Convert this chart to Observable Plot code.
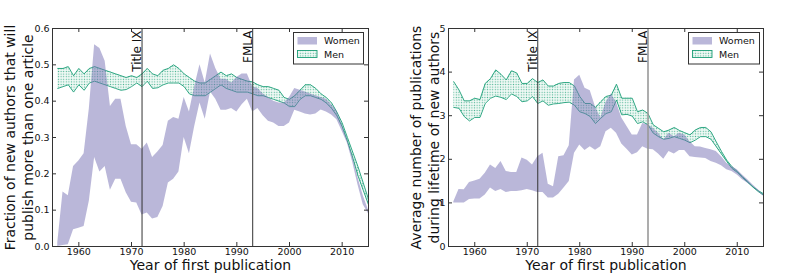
<!DOCTYPE html>
<html><head><meta charset="utf-8">
<script src="https://cdn.jsdelivr.net/npm/d3@7"></script>
<script src="https://cdn.jsdelivr.net/npm/@observablehq/plot@0.6"></script>
<style>
body{margin:0;background:#fff;}
#wrap{display:flex;width:806px;height:275px;overflow:hidden;}
#wrap svg{display:block;}
</style></head><body><div id="wrap"></div>
<script>
// ---- data ----
const years = [1956,1957,1958,1959,1960,1961,1962,1963,1964,1965,1966,1967,1968,1969,1970,1971,1972,1973,1974,1975,1976,1977,1978,1979,1980,1981,1982,1983,1984,1985,1986,1987,1988,1989,1990,1991,1992,1993,1994,1995,1996,1997,1998,1999,2000,2001,2002,2003,2004,2005,2006,2007,2008,2009,2010,2011,2012,2013,2014,2015];

// Left: fraction of new authors publishing more than one article
const womenFracLo = [0.0,0.003,0.005,0.046,0.05,0.055,0.125,0.245,0.205,0.22,0.155,0.185,0.185,0.148,0.122,0.12,0.087,0.092,0.076,0.08,0.11,0.175,0.185,0.205,0.30,0.255,0.33,0.395,0.35,0.425,0.405,0.375,0.375,0.38,0.37,0.39,0.405,0.37,0.38,0.36,0.345,0.34,0.33,0.33,0.34,0.375,0.37,0.365,0.362,0.365,0.376,0.37,0.362,0.349,0.317,0.284,0.232,0.17,0.115,0.09];
const womenFracHi = [0.01,0.15,0.14,0.22,0.235,0.255,0.38,0.555,0.545,0.51,0.385,0.405,0.405,0.33,0.28,0.28,0.268,0.285,0.245,0.26,0.278,0.345,0.355,0.35,0.41,0.37,0.44,0.50,0.45,0.53,0.49,0.46,0.46,0.45,0.465,0.475,0.475,0.44,0.435,0.42,0.41,0.40,0.395,0.395,0.41,0.435,0.43,0.425,0.42,0.415,0.41,0.405,0.39,0.372,0.335,0.294,0.248,0.19,0.14,0.10];
const menFracLo = [0.435,0.44,0.445,0.425,0.445,0.43,0.45,0.455,0.45,0.445,0.44,0.435,0.43,0.432,0.44,0.45,0.44,0.455,0.435,0.437,0.445,0.45,0.45,0.45,0.44,0.42,0.415,0.415,0.415,0.425,0.435,0.445,0.435,0.43,0.425,0.425,0.425,0.42,0.415,0.415,0.41,0.405,0.40,0.395,0.385,0.385,0.405,0.415,0.415,0.41,0.405,0.395,0.38,0.36,0.33,0.29,0.245,0.195,0.155,0.115];
const menFracHi = [0.49,0.49,0.495,0.47,0.49,0.475,0.49,0.495,0.49,0.485,0.48,0.475,0.47,0.465,0.47,0.465,0.475,0.49,0.475,0.47,0.485,0.49,0.50,0.49,0.475,0.465,0.455,0.45,0.45,0.46,0.47,0.48,0.47,0.475,0.465,0.46,0.455,0.453,0.445,0.44,0.44,0.435,0.43,0.41,0.405,0.415,0.43,0.445,0.445,0.435,0.42,0.41,0.395,0.37,0.34,0.30,0.26,0.22,0.175,0.13];

// Right: average number of publications during lifetime
const womenPubLo = [1.0,1.0,1.0,1.08,1.09,1.09,1.18,1.34,1.26,1.31,1.24,1.26,1.26,1.28,1.31,1.28,1.24,1.24,1.11,1.11,1.2,1.34,1.49,2.14,2.33,2.2,2.29,2.21,2.29,2.63,2.71,2.6,2.35,2.23,2.1,2.15,2.29,2.23,2.22,2.12,2.0,2.18,2.12,2.2,2.2,2.06,2.04,2.03,2.02,1.95,1.91,1.85,1.76,1.72,1.64,1.53,1.45,1.37,1.26,1.15];
const womenPubHi = [1.02,1.31,1.30,1.47,1.50,1.54,1.68,1.87,1.79,1.95,1.72,1.70,1.70,2.03,1.98,1.87,2.06,2.14,1.43,1.37,2.06,2.08,2.31,3.82,3.93,3.63,3.57,3.2,2.95,3.3,3.5,3.3,2.95,2.75,2.56,2.56,2.82,2.79,2.71,2.6,2.44,2.6,2.52,2.6,2.56,2.4,2.29,2.28,2.25,2.22,2.18,2.06,1.91,1.83,1.76,1.64,1.53,1.41,1.3,1.18];
const menPubLo = [3.19,3.17,2.98,2.88,2.96,2.96,3.28,3.4,3.45,3.42,3.37,3.5,3.44,3.32,3.34,3.44,3.28,3.34,3.24,3.27,3.28,3.3,3.31,3.24,3.09,3.05,2.98,2.82,2.94,3.05,3.09,3.36,3.02,3.03,2.99,2.82,2.86,2.79,2.6,2.52,2.46,2.48,2.52,2.48,2.44,2.38,2.44,2.52,2.52,2.46,2.29,2.12,1.95,1.79,1.7,1.58,1.47,1.36,1.26,1.18];
const menPubHi = [3.78,3.59,3.34,3.34,3.4,3.37,3.74,3.85,4.05,3.95,3.82,4.03,3.98,3.74,3.74,3.85,3.76,3.82,3.68,3.68,3.74,3.76,3.76,3.68,3.44,3.28,3.28,3.19,3.32,3.44,3.47,3.72,3.4,3.4,3.4,3.09,3.13,3.05,2.79,2.71,2.63,2.67,2.73,2.66,2.61,2.56,2.67,2.73,2.73,2.63,2.4,2.18,1.98,1.83,1.72,1.6,1.49,1.37,1.28,1.21];

const eventYears = [1972, 1993];
const eventNames = ["Title IX", "FMLA"];
const xTicks = [1960, 1970, 1980, 1990, 2000, 2010];
const yTicksFrac = [0.0, 0.1, 0.2, 0.3, 0.4, 0.5, 0.6];
const yTicksPub = [0, 1, 2, 3, 4, 5];
const seriesNames = ["Women", "Men"];
const xLabel = "Year of first publication";
const yLabelFrac = "Fraction of new authors that will\npublish more than one article";
const yLabelPub = "Average number of publications\nduring lifetime of new authors";

// ---- styles ----
const GREEN = "#1b9e77";
const PURPLE = "#7570b3";
const FONT = "DejaVu Sans, Bitstream Vera Sans, sans-serif";

function rows(lo, hi) { return years.map((y, i) => ({year: y, lo: lo[i], hi: hi[i]})); }
const events = eventYears.map((y, i) => ({year: y, name: eventNames[i]}));

function panel(o) {
  const H = 275, mT = 28, mB = 29;
  const frameW = o.width - o.marginLeft - o.marginRight;
  const frameH = H - mT - mB;
  const men = rows(o.menLo, o.menHi);
  const women = rows(o.womenLo, o.womenHi);
  const pid = "hatch" + o.id;
  const svg = Plot.plot({
    width: o.width, height: H,
    marginLeft: o.marginLeft, marginRight: o.marginRight, marginTop: mT, marginBottom: mB,
    x: {domain: [1955, 2015]},
    y: {domain: o.yDomain},
    style: {fontFamily: FONT, fontSize: "9.5px", color: "#111", background: "white", overflow: "visible"},
    marks: [
      Plot.areaY(men, {x: "year", y1: "lo", y2: "hi", fill: `url(#${pid})`}),
      Plot.line(men, {x: "year", y: "hi", stroke: GREEN, strokeWidth: 0.9}),
      Plot.line(men, {x: "year", y: "lo", stroke: GREEN, strokeWidth: 0.9}),
      Plot.areaY(women, {x: "year", y1: "lo", y2: "hi", fill: PURPLE, fillOpacity: 0.5}),
      Plot.ruleX(events.slice(0,1), {x: "year", stroke: "#333", strokeWidth: 1}),
      Plot.ruleX(events.slice(1), {x: "year", stroke: o.fmlaStroke, strokeWidth: o.fmlaWidth}),
      Plot.text(events, {x: "year", text: "name", frameAnchor: "top", rotate: -90, textAnchor: "end", lineAnchor: "bottom", dy: 2, dx: -1, fontSize: 12, fill: "#111"}),
      Plot.ruleX(xTicks, {x: d => d, insetTop: frameH - 4, stroke: "#333"}),
      Plot.ruleX(xTicks, {x: d => d, insetBottom: frameH - 4, stroke: "#333"}),
      Plot.ruleY(o.yTicks, {y: d => d, insetRight: frameW - 4, stroke: "#333"}),
      Plot.ruleY(o.yTicks, {y: d => d, insetLeft: frameW - 4, stroke: "#333"}),
      Plot.frame({stroke: "#333", strokeWidth: 1}),
      Plot.axisX(xTicks, {tickSize: 0, tickPadding: 2, label: null, tickFormat: d => String(d)}),
      Plot.axisY(o.yTicks, {tickSize: 0, tickPadding: 3, label: null, tickFormat: o.yFormat}),
      Plot.text([o.yLabel], {text: d => d, frameAnchor: "left", textAnchor: "middle", lineAnchor: "middle", rotate: -90, dx: o.yLabelDx, fontSize: 14, lineHeight: 1.27, fill: "#111"}),
      Plot.text([xLabel], {text: d => d, frameAnchor: "bottom", textAnchor: "middle", lineAnchor: "middle", dy: 19, fontSize: 14, fill: "#111"})
    ]
  });
  const s = d3.select(svg);
  s.insert("defs", ":first-child").html(
    `<pattern id="${pid}" patternUnits="userSpaceOnUse" width="2.6" height="2.6">` +
    `<rect width="2.6" height="2.6" fill="#f0f9f5"/>` +
    `<circle cx="1.3" cy="1.3" r="0.65" fill="${GREEN}" fill-opacity="0.75"/></pattern>`);
  // legend
  const L = o.legend;
  const g = s.append("g").attr("font-family", FONT).attr("font-size", 9.5).attr("text-anchor", "start");
  g.append("rect").attr("x", L.x).attr("y", 32.5).attr("width", L.w).attr("height", 31.5)
    .attr("fill", "white").attr("stroke", "#333").attr("stroke-width", 1);
  g.append("rect").attr("x", L.x + 4).attr("y", 37).attr("width", 19.5).attr("height", 7.5)
    .attr("fill", PURPLE).attr("fill-opacity", 0.5);
  g.append("rect").attr("x", L.x + 4).attr("y", 50.5).attr("width", 19.5).attr("height", 7)
    .attr("fill", `url(#${pid})`).attr("stroke", GREEN).attr("stroke-width", 0.9);
  g.append("text").attr("x", L.x + 30.5).attr("y", 41).attr("dy", "0.35em").attr("fill", "#111").text(seriesNames[0]);
  g.append("text").attr("x", L.x + 30.5).attr("y", 54.5).attr("dy", "0.35em").attr("fill", "#111").text(seriesNames[1]);
  return svg;
}

const wrap = document.getElementById("wrap");
wrap.appendChild(panel({
  id: "L", width: 403, marginLeft: 52, marginRight: 35,
  yDomain: [0, 0.6], yTicks: yTicksFrac, yFormat: d3.format(".1f"),
  womenLo: womenFracLo, womenHi: womenFracHi, menLo: menFracLo, menHi: menFracHi,
  yLabel: yLabelFrac, yLabelDx: -34, fmlaStroke: "#555", fmlaWidth: 1.2,
  legend: {x: 293.5, w: 70}
}));
wrap.appendChild(panel({
  id: "R", width: 403, marginLeft: 45, marginRight: 43,
  yDomain: [0, 5], yTicks: yTicksPub, yFormat: d3.format("d"),
  womenLo: womenPubLo, womenHi: womenPubHi, menLo: menPubLo, menHi: menPubHi,
  yLabel: yLabelPub, yLabelDx: -24, fmlaStroke: "#999", fmlaWidth: 1.6,
  legend: {x: 285.5, w: 71}
}));
</script></body></html>
